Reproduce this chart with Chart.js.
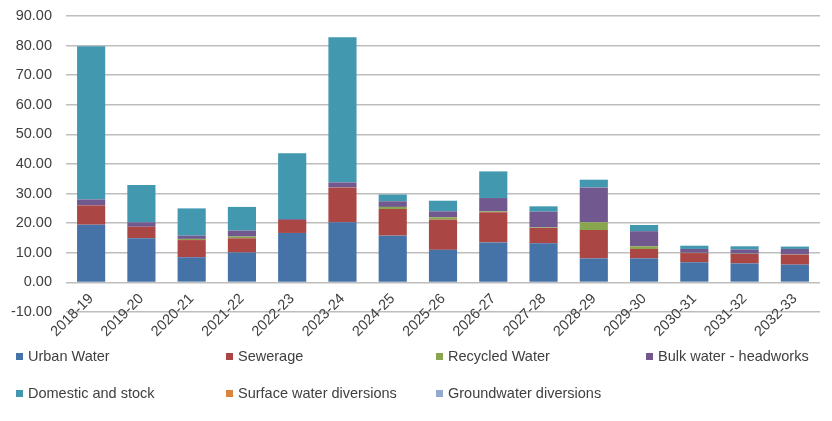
<!DOCTYPE html>
<html>
<head>
<meta charset="utf-8">
<script src="https://cdn.jsdelivr.net/npm/chart.js@4"></script>
<style>
  html, body { margin: 0; padding: 0; background: #ffffff; }
  #wrap { position: relative; width: 832px; height: 421px; overflow: hidden; }
  #chart { position: absolute; left: 0; top: 0; }
  #legend {
    position: absolute; left: 16px; top: 345px;
    display: grid; grid-template-columns: 210px 210px 210px 210px;
    grid-auto-rows: 37px;
    font-family: "Liberation Sans", Arial, sans-serif; font-size: 14.5px; color: #404040;
  }
  #legend .item { display: flex; align-items: center; height: 22px; white-space: nowrap; }
  #legend .sw { width: 7px; height: 7px; margin-right: 5px; flex: none; }
</style>
</head>
<body>
<div id="wrap">
  <canvas id="chart" width="832" height="421"></canvas>
  <div id="legend"></div>
</div>
<script>
// Financial years on the category axis
const years = ['2018-19', '2019-20', '2020-21', '2021-22', '2022-23', '2023-24', '2024-25', '2025-26',
  '2026-27', '2027-28', '2028-29', '2029-30', '2030-31', '2031-32', '2032-33'];

// Value of each component per year
const urbanWater = [19.5, 14.9, 8.5, 10.1, 16.7, 20.3, 15.8, 11.0, 13.5, 13.2, 8.1, 8.1, 6.8, 6.4, 6.0];
const sewerage = [6.5, 3.9, 5.8, 4.8, 4.4, 11.8, 9.0, 10.2, 10.2, 5.2, 9.6, 3.2, 3.1, 3.2, 3.4];
const recycledWater = [0, 0, 0.4, 0.6, 0, 0, 0.7, 0.8, 0.3, 0.2, 2.6, 0.9, 0.1, 0.1, 0.1];
const bulkWater = [2.0, 1.5, 1.1, 2.0, 0.3, 1.7, 1.9, 2.0, 4.5, 5.3, 11.8, 5.1, 1.3, 1.4, 1.8];
const domesticStock = [51.8, 12.6, 9.2, 8.0, 22.2, 49.0, 2.3, 3.6, 9.0, 1.8, 2.6, 2.1, 1.1, 1.1, 0.8];
const surfaceDiversions = [0, 0, 0, 0, 0, 0, 0, 0, 0, 0, 0, 0, 0, 0, 0];
const groundDiversions = [0, 0, 0, 0, 0, 0, 0, 0, 0, 0, 0, 0, 0, 0, 0];

// Value axis ticks
const yTicks = [-10, 0, 10, 20, 30, 40, 50, 60, 70, 80, 90];

const seriesNames = ['Urban Water', 'Sewerage', 'Recycled Water', 'Bulk water - headworks',
  'Domestic and stock', 'Surface water diversions', 'Groundwater diversions'];
const seriesColors = ['#4572A7', '#AA4643', '#89A54E', '#71588F', '#4198AF', '#DB843D', '#93A9CF'];
const seriesData = [urbanWater, sewerage, recycledWater, bulkWater, domesticStock, surfaceDiversions, groundDiversions];

const FONT = { family: '"Liberation Sans", Arial, sans-serif', size: 14.5 };
const TEXT = '#404040';

const datasets = seriesNames.map((name, i) => ({
  label: name,
  data: seriesData[i],
  backgroundColor: seriesColors[i],
  borderWidth: 0,
  categoryPercentage: 1.0,
  barPercentage: 0.56
}));

const chart = new Chart(document.getElementById('chart'), {
  type: 'bar',
  data: { labels: years, datasets },
  options: {
    responsive: false,
    animation: false,
    layout: { padding: { top: 16, right: 12, bottom: 109, left: 0 } },
    plugins: { legend: { display: false }, tooltip: { enabled: false } },
    scales: {
      x: {
        stacked: true,
        position: { y: 0 },
        grid: { display: false, drawTicks: false },
        border: { display: false },
        ticks: { font: FONT, color: TEXT, maxRotation: 45, minRotation: 45, padding: 8, autoSkip: false }
      },
      y: {
        stacked: true,
        min: yTicks[0],
        max: yTicks[yTicks.length - 1],
        afterBuildTicks(scale) { scale.ticks = yTicks.map(v => ({ value: v })); },
        afterFit(scale) {
          scale.width = 66;
          // the plot edges are set by the layout padding alone
          scale.paddingTop = 0;
          scale.paddingBottom = 0;
        },
        grid: { color: '#bdbdbd', lineWidth: 1.5, drawTicks: false },
        border: { display: false },
        ticks: { font: FONT, color: TEXT, padding: 14, callback: v => Number(v).toFixed(2) }
      }
    }
  }
});

// Legend laid out in four fixed-width columns below the plot
const legendEl = document.getElementById('legend');
chart.data.datasets.forEach(ds => {
  const item = document.createElement('div');
  item.className = 'item';
  const sw = document.createElement('span');
  sw.className = 'sw';
  sw.style.background = ds.backgroundColor;
  const txt = document.createElement('span');
  txt.textContent = ds.label;
  item.appendChild(sw);
  item.appendChild(txt);
  legendEl.appendChild(item);
});
</script>
</body>
</html>
